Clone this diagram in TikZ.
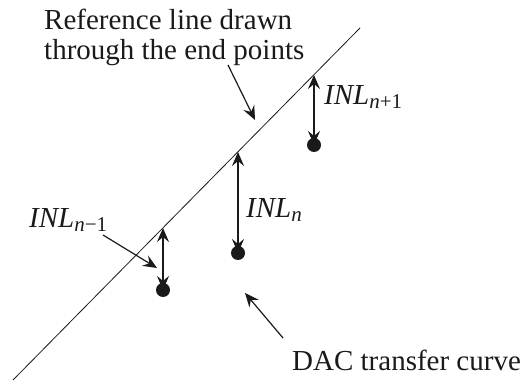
\documentclass[tikz,border=0pt]{standalone}
\usepackage{fontspec}
\setmainfont{Liberation Serif}
\usepackage{xcolor}
\usetikzlibrary{arrows.meta,positioning,calc}
\definecolor{ink}{HTML}{1A1A1A}
\tikzset{
  >={Stealth[length=14pt,width=12pt,inset=5pt]},
  refline/.style={draw=ink,line width=.8pt},
  inlarrow/.style={<->,draw=ink,line width=1.2pt},
  pointer/.style={->,draw=ink,line width=1.2pt},
  dacpoint/.style={circle,minimum size=14pt,inner sep=0pt,fill=ink},
  lbl/.style={font=\fontsize{29}{30}\selectfont,text=ink,inner sep=0pt},
}
\newcommand{\inl}[1]{\textit{INL}\raisebox{-.35ex}{\fontsize{21}{21}\selectfont #1}}

\begin{document}
\begin{tikzpicture}[x=1pt,y=1pt]
  \useasboundingbox (0,0) rectangle (532,382);
  % reference line through the end points
  \coordinate (lo) at (13,2);
  \coordinate (hi) at (360,354);
  \draw[refline] (lo) -- (hi);
  % points on the line above each code
  \coordinate (r1) at (163,154);
  \coordinate (r2) at (238,230);
  \coordinate (r3) at (314,307);
  % measured DAC points
  \node[dacpoint] (d1) at (163,92) {};
  \node[dacpoint] (d2) at (238,129) {};
  \node[dacpoint] (d3) at (314,237) {};
  \draw[inlarrow] (r1) -- (d1.center);
  \draw[inlarrow] (r2) -- (d2.center);
  \draw[inlarrow] (r3) -- (d3.center);
  % labels
  \node[lbl,anchor=north west,align=left] (reftext) at (44,373)
    {Reference line drawn\\through the end points};
  \node[lbl,anchor=west] (inl3) at (324,285) {\inl{\textit{n}+1}};
  \node[lbl,anchor=west] (inl2) at (246,172) {\inl{\textit{n}}};
  \node[lbl,anchor=west] (inl1) at (29,162) {\inl{\textit{n}−1}};
  \node[lbl,anchor=west] (dactext) at (292,22) {DAC transfer curve};
  % pointers
  \coordinate (p0) at (228,317);
  \coordinate (p0e) at (255,262);
  \draw[pointer] (p0) -- (p0e);
  \coordinate (p1) at (103,147);
  \coordinate (p1e) at (157,114);
  \draw[pointer] (p1) -- (p1e);
  \coordinate (p2) at (283,44);
  \coordinate (p2e) at (245,89);
  \draw[pointer] (p2) -- (p2e);
\end{tikzpicture}
\end{document}
